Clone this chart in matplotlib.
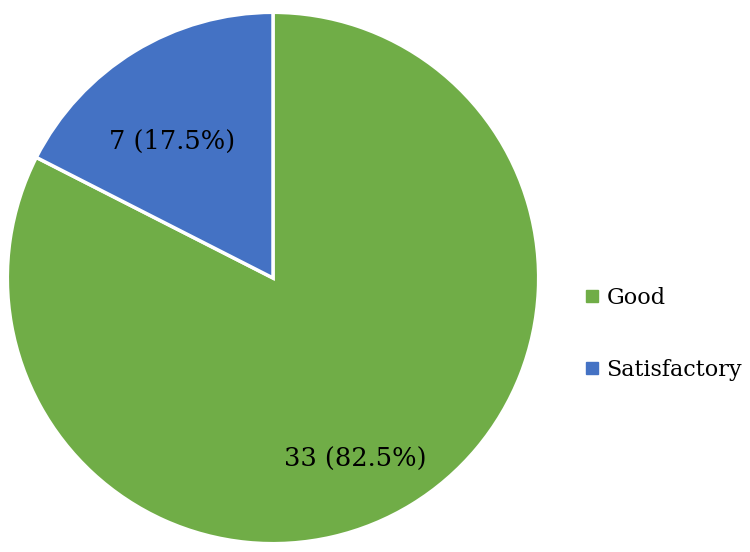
import numpy as np
import matplotlib.pyplot as plt
from matplotlib.lines import Line2D

# === Data ===
categories = ["Good", "Satisfactory"]
counts = [33, 7]
colors = ["#70AD47", "#4472C4"]

plt.rcParams["font.family"] = ["DejaVu Serif"]

fig = plt.figure(figsize=(7.5, 5.52), dpi=100)
ax = fig.add_axes([6 / 750, 7 / 552, 534 / 750, 534 / 552])

total = sum(counts)


def fmt(pct):
    n = int(round(pct * total / 100))
    return f"{n} ({pct:.1f}%)"


wedges, texts, autotexts = ax.pie(
    counts, colors=colors, startangle=90, counterclock=False,
    autopct=fmt, pctdistance=0.7,
    wedgeprops=dict(edgecolor="white", linewidth=2.5),
    textprops=dict(fontsize=18.5, color="black"),
)

# push labels a bit like the "best fit" placement
label_dist = [0.75, 0.64]
label_shift = [-7, 5]  # degrees
for w, t, d, s in zip(wedges, autotexts, label_dist, label_shift):
    ang = np.deg2rad((w.theta1 + w.theta2) / 2 + s)
    t.set_position((d * np.cos(ang), d * np.sin(ang)))

ax.set_xlim(-1.005, 1.005)
ax.set_ylim(-1.005, 1.005)
ax.set_aspect("equal")

# === Legend ===
handles = [Line2D([0], [0], marker="s", linestyle="none", markersize=8,
                  markerfacecolor=c, markeredgecolor=c) for c in colors]
fig.legend(handles, categories, loc="center left", bbox_to_anchor=(0.748, 0.395),
           frameon=False, fontsize=16, labelspacing=2.25, handletextpad=0.15,
           handlelength=1.0)

plt.savefig("out.png", dpi=100)
